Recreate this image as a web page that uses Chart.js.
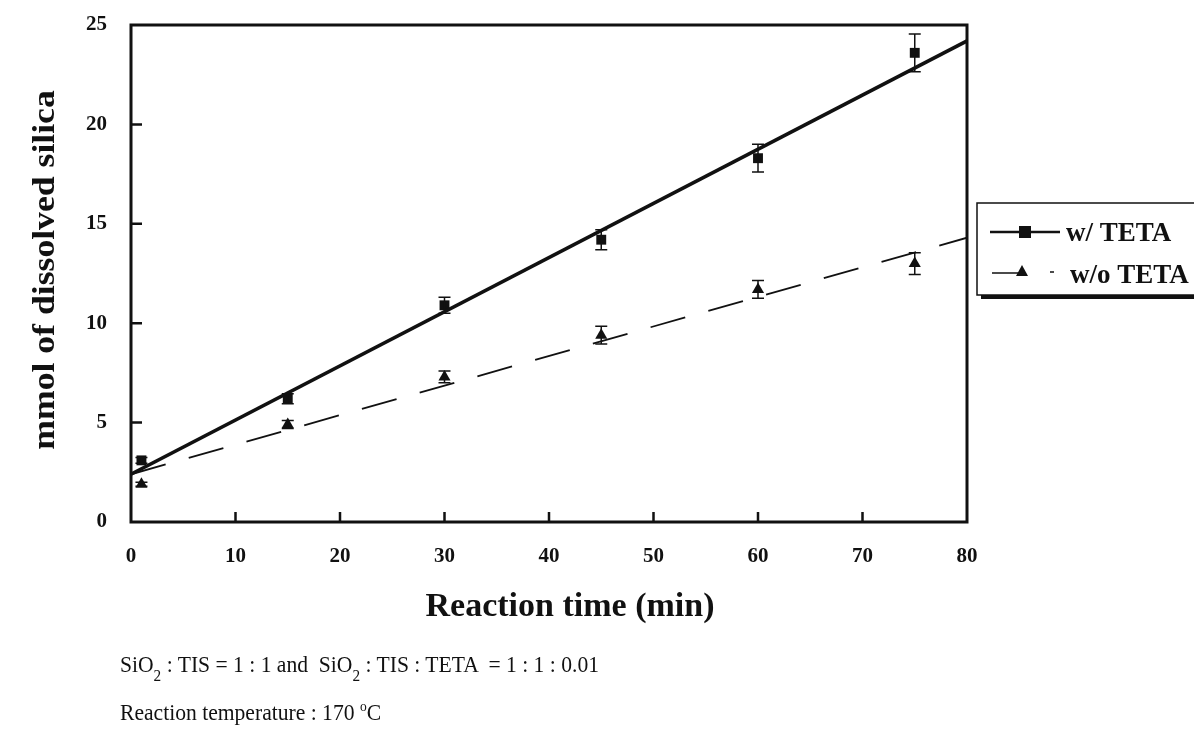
<!DOCTYPE html>
<html>
<head>
<meta charset="utf-8">
<script src="https://cdn.jsdelivr.net/npm/chart.js@4"></script>
<style>
  body { margin: 0; background: #fff; }
  #wrap { position: relative; width: 1194px; height: 743px; }
  .note { position: absolute; font-family: "Liberation Serif", serif; font-size: 24px; color: #111; white-space: nowrap; transform: scaleX(0.9); transform-origin: left top; }
  .note sub { font-size: 17px; vertical-align: -9px; }
</style>
</head>
<body>
<div id="wrap">
  <canvas id="myChart" width="1194" height="743"></canvas>
  <div class="note" style="left:120px; top:651px;">SiO<sub>2</sub> : TIS = 1 : 1 and &nbsp;SiO<sub>2</sub> : TIS : TETA &nbsp;= 1 : 1 : 0.01</div>
  <div class="note" style="left:120px; top:698px;">Reaction temperature : 170 <sup style="font-size:15px;">o</sup>C</div>
</div>
<script>
const times = [1, 15, 30, 45, 60, 75];
const silicaWith = [3.1, 6.2, 10.9, 14.2, 18.3, 23.6];
const errWith = [0.15, 0.25, 0.4, 0.5, 0.7, 0.95];
const silicaWithout = [1.9, 4.9, 7.3, 9.4, 11.7, 13.0];
const errWithout = [0.1, 0.2, 0.3, 0.45, 0.45, 0.55];
// linear fit lines, read at both ends of the time axis
const fitTimes = [0, 80];
const fitWith = [2.4, 24.2];
const fitWithout = [2.4, 14.3];
const xTicks = [0, 10, 20, 30, 40, 50, 60, 70, 80];
const yTicks = [0, 5, 10, 15, 20, 25];

function pts(xs, ys) {
    return xs.map((x, i) => ({ x: x, y: ys[i] }));
}

const serif = '"Liberation Serif", "Times New Roman", serif';

// error bars for the measured points
const errorBars = {
    id: 'errorBars',
    afterDatasetsDraw(chart) {
        const ctx = chart.ctx;
        const xs = chart.scales.x, ys = chart.scales.y;
        ctx.save();
        ctx.strokeStyle = '#111';
        ctx.lineWidth = 1.5;
        chart.data.datasets.forEach(ds => {
            if (!ds.errors) return;
            ds.data.forEach((p, i) => {
                const e = ds.errors[i];
                const px = xs.getPixelForValue(p.x);
                const top = ys.getPixelForValue(p.y + e);
                const bot = ys.getPixelForValue(p.y - e);
                ctx.beginPath();
                ctx.moveTo(px, top); ctx.lineTo(px, bot);
                ctx.moveTo(px - 6, top); ctx.lineTo(px + 6, top);
                ctx.moveTo(px - 6, bot); ctx.lineTo(px + 6, bot);
                ctx.stroke();
            });
        });
        ctx.restore();
    }
};

// frame, inward tick marks, axis titles and the legend box
const frame = {
    id: 'frame',
    afterDraw(chart) {
        const ctx = chart.ctx;
        const a = chart.chartArea;
        const xs = chart.scales.x, ys = chart.scales.y;
        ctx.save();
        ctx.strokeStyle = '#111';
        ctx.lineWidth = 3;
        ctx.strokeRect(a.left, a.top, a.right - a.left, a.bottom - a.top);
        ctx.lineWidth = 2.5;
        ctx.beginPath();
        xTicks.slice(1, -1).forEach(v => {
            const px = xs.getPixelForValue(v);
            ctx.moveTo(px, a.bottom); ctx.lineTo(px, a.bottom - 10);
        });
        yTicks.slice(1, -1).forEach(v => {
            const py = ys.getPixelForValue(v);
            ctx.moveTo(a.left, py); ctx.lineTo(a.left + 11, py);
        });
        ctx.stroke();

        ctx.fillStyle = '#111';
        ctx.textAlign = 'center';
        ctx.textBaseline = 'alphabetic';
        ctx.font = 'bold 34px ' + serif;
        ctx.fillText('Reaction time (min)', 570, 616);
        ctx.save();
        ctx.translate(54, 270);
        ctx.rotate(-Math.PI / 2);
        ctx.scale(1.15, 1);
        ctx.font = 'bold 31px ' + serif;
        ctx.fillText('mmol of dissolved silica', 0, 0);
        ctx.restore();

        // legend
        const lx = 977, ly = 203, lw = 230, lh = 92;
        ctx.fillStyle = '#111';
        ctx.fillRect(lx + 4, ly + 4, lw, lh);
        ctx.fillStyle = '#fff';
        ctx.fillRect(lx, ly, lw, lh);
        ctx.lineWidth = 1.5;
        ctx.strokeRect(lx, ly, lw, lh);

        ctx.lineWidth = 2.5;
        ctx.beginPath();
        ctx.moveTo(990, 232); ctx.lineTo(1060, 232);
        ctx.stroke();
        ctx.fillStyle = '#111';
        ctx.fillRect(1019, 226, 12, 12);
        ctx.lineWidth = 1.5;
        ctx.beginPath();
        ctx.moveTo(992, 273); ctx.lineTo(1020, 273);
        ctx.moveTo(1050, 272); ctx.lineTo(1054, 272);
        ctx.stroke();
        ctx.beginPath();
        ctx.moveTo(1022, 265); ctx.lineTo(1028, 276); ctx.lineTo(1016, 276);
        ctx.closePath();
        ctx.fill();

        ctx.textAlign = 'left';
        ctx.textBaseline = 'middle';
        ctx.font = 'bold 27px ' + serif;
        ctx.fillText('w/ TETA', 1066, 234);
        ctx.fillText('w/o TETA', 1070, 276);
        ctx.restore();
    }
};

const ctx = document.getElementById('myChart').getContext('2d');

const myChart = new Chart(ctx, {
    type: 'scatter',
    data: {
        datasets: [
            {
                label: 'w/ TETA fit',
                data: pts(fitTimes, fitWith),
                showLine: true,
                borderColor: '#111',
                borderWidth: 3.5,
                pointRadius: 0
            },
            {
                label: 'w/o TETA fit',
                data: pts(fitTimes, fitWithout),
                showLine: true,
                borderColor: '#111',
                borderWidth: 1.8,
                borderDash: [36, 24],
                pointRadius: 0
            },
            {
                label: 'w/ TETA',
                data: pts(times, silicaWith),
                errors: errWith,
                pointStyle: 'rect',
                pointRadius: 7,
                backgroundColor: '#111',
                borderColor: '#111',
                borderWidth: 0
            },
            {
                label: 'w/o TETA',
                data: pts(times, silicaWithout),
                errors: errWithout,
                pointStyle: 'triangle',
                pointRadius: 7,
                backgroundColor: '#111',
                borderColor: '#111',
                borderWidth: 0
            }
        ]
    },
    options: {
        responsive: false,
        animation: false,
        layout: { padding: { left: 0, top: 25, right: 227, bottom: 0 } },
        plugins: {
            legend: { display: false },
            tooltip: { enabled: false }
        },
        scales: {
            x: {
                type: 'linear',
                min: 0,
                max: 80,
                afterFit: s => { s.height = 221; s.paddingLeft = 0; s.paddingRight = 0; },
                afterBuildTicks: s => { s.ticks = xTicks.map(v => ({ value: v })); },
                grid: { display: false, drawTicks: false },
                border: { display: false },
                ticks: {
                    padding: 22,
                    color: '#111',
                    font: { family: serif, size: 21, weight: 'bold' }
                }
            },
            y: {
                min: 0,
                max: 25,
                afterFit: s => { s.width = 131; s.paddingTop = 0; s.paddingBottom = 0; },
                afterBuildTicks: s => { s.ticks = yTicks.map(v => ({ value: v })); },
                grid: { display: false, drawTicks: false },
                border: { display: false },
                ticks: {
                    padding: 24,
                    color: '#111',
                    font: { family: serif, size: 21, weight: 'bold' }
                }
            }
        }
    },
    plugins: [errorBars, frame]
});
</script>
</body>
</html>
